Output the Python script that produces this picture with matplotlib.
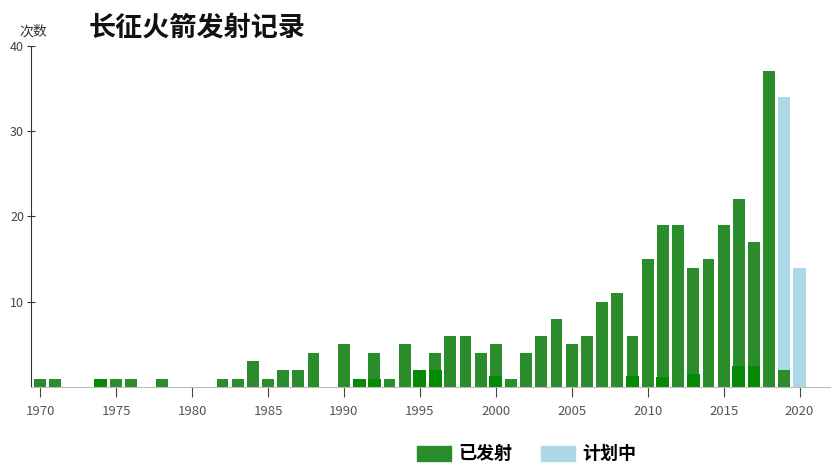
import matplotlib.pyplot as plt
from matplotlib.patches import Patch

plt.rcParams['font.family'] = ['Noto Sans CJK SC', 'DejaVu Sans']

# 已发射 (launched) per year
years = [1970, 1971, 1974, 1975, 1976, 1978, 1982, 1983, 1984, 1985, 1986, 1987,
         1988, 1990, 1991, 1992, 1993, 1994, 1995, 1996, 1997, 1998, 1999, 2000,
         2001, 2002, 2003, 2004, 2005, 2006, 2007, 2008, 2009, 2010, 2011, 2012,
         2013, 2014, 2015, 2016, 2017, 2018, 2019]
launched = [1, 1, 1, 1, 1, 1, 1, 1, 3, 1, 2, 2,
            4, 5, 1, 4, 1, 5, 2, 4, 6, 6, 4, 5,
            1, 4, 6, 8, 5, 6, 10, 11, 6, 15, 19, 19,
            14, 15, 19, 22, 17, 37, 2]

# 计划中 (planned)
plan_years = [2019, 2020]
planned = [34, 14]

# darker overlay blocks seen in the source image
dark_years = [1974, 1991, 1992, 1995, 1996, 2000, 2009, 2011, 2013, 2016, 2017]
dark_vals = [1, 1, 1, 2, 2, 1.3, 1.3, 1.2, 1.5, 2.5, 2.5]

green = '#2b8c2b'
dark_green = '#058a05'
light_blue = '#add8e6'

fig = plt.figure(figsize=(8.4, 4.68), dpi=100)
ax = fig.add_axes([0.037, 0.173, 0.951, 0.729])

ax.bar(plan_years, planned, width=0.8, color=light_blue)
ax.bar(years, launched, width=0.78, color=green)
ax.bar(dark_years, dark_vals, width=0.85, color=dark_green)

ax.set_xlim(1969.4, 2022)
ax.set_ylim(0, 40)
ax.set_xticks([1970, 1975, 1980, 1985, 1990, 1995, 2000, 2005, 2010, 2015, 2020])
ax.set_yticks([10, 20, 30, 40])

for s in ['top', 'right']:
    ax.spines[s].set_visible(False)
ax.spines['left'].set_color('#333333')
ax.spines['bottom'].set_color('#bbbbbb')
ax.tick_params(axis='y', direction='inout', length=6, color='#333333',
               labelsize=9, labelcolor='#444444', pad=2)
ax.tick_params(axis='x', direction='out', length=7, color='#444444',
               labelsize=9.5, labelcolor='#555555', pad=6)

fig.text(0.023, 0.925, '次数', fontsize=10, color='#333333')
fig.text(0.105, 0.925, '长征火箭发射记录', fontsize=19.5, fontweight='bold', color='#111111')

handles = [Patch(color=green, label='已发射'), Patch(color=light_blue, label='计划中')]
fig.legend(handles=handles, loc='lower center', bbox_to_anchor=(0.627, -0.025), ncol=2,
           frameon=False, prop={'size': 13, 'weight': 'bold'},
           handlelength=1.9, handleheight=0.9, columnspacing=1.6, handletextpad=0.4)

fig.savefig('out.png', dpi=100)
